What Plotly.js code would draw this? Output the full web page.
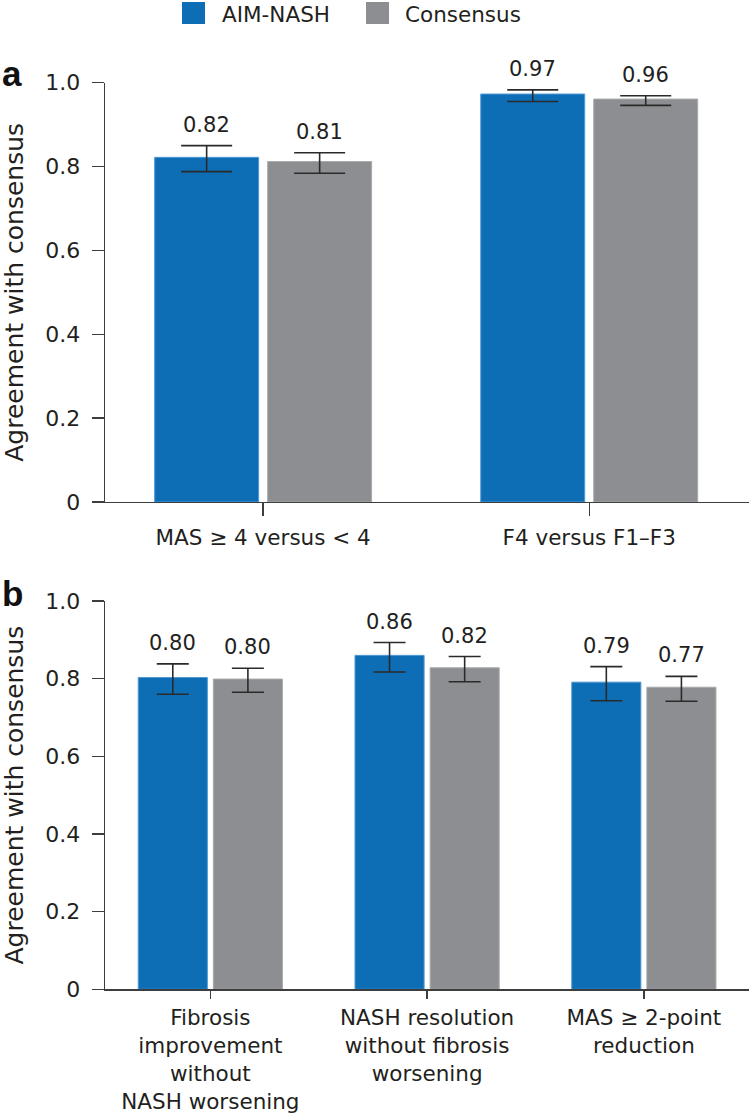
<!DOCTYPE html>
<html><head><meta charset="utf-8">
<script src="https://cdn.plot.ly/plotly-3.0.1.min.js"></script>
<style>html,body{margin:0;padding:0;background:#fff;} #chart{width:749px;height:1115px;}</style>
</head><body><div id="chart"></div>
<script>
// ---- data ----
const seriesNames = ['AIM-NASH', 'Consensus'];
const seriesColors = ['#0d6eb6', '#8d8e91'];
const seriesEdge = ['#4f98d4', '#a9aaac'];

const catsA = ['MAS ≥ 4 versus < 4', 'F4 versus F1–F3'];
const aimA = [0.822, 0.973];
const aimAHi = [0.850, 0.983];
const aimALo = [0.788, 0.955];
const aimALabels = ['0.82', '0.97'];
const conA = [0.812, 0.961];
const conAHi = [0.833, 0.969];
const conALo = [0.784, 0.946];
const conALabels = ['0.81', '0.96'];

const catsB = ['Fibrosis<br>improvement<br>without<br>NASH worsening',
               'NASH resolution<br>without fibrosis<br>worsening',
               'MAS ≥ 2-point<br>reduction'];
const aimB = [0.803, 0.860, 0.791];
const aimBHi = [0.838, 0.893, 0.831];
const aimBLo = [0.760, 0.817, 0.743];
const aimBLabels = ['0.80', '0.86', '0.79'];
const conB = [0.799, 0.828, 0.778];
const conBHi = [0.827, 0.857, 0.806];
const conBLo = [0.765, 0.792, 0.742];
const conBLabels = ['0.80', '0.82', '0.77'];

const yTickVals = [0, 0.2, 0.4, 0.6, 0.8, 1.0];
const yTickText = ['0', '0.2', '0.4', '0.6', '0.8', '1.0'];
const yTitle = 'Agreement with consensus';
const panelLetters = ['a', 'b'];

// ---- layout constants ----
const W = 749, H = 1115;
const FONT = 'DejaVu Sans, Arial, sans-serif';
const TXT = '#231f20';
const AX = '#3d3d3d';
const bargap = 0.307, bargroupgap = 0.08;
const marginL = 105;
const plotW = W - marginL;
const rangeA = [-0.485, 1.49];
const rangeB = [-0.486, 2.485];

function sub(a, b) { return a.map((v, i) => +(v - b[i]).toFixed(4)); }

function barTrace(name, color, edge, x, y, hi, lo, xa, ya, capw) {
  return {
    type: 'bar', name: name, x: x, y: y, xaxis: xa, yaxis: ya,
    marker: { color: color, line: { color: edge, width: 1 } },
    error_y: { type: 'data', symmetric: false, array: sub(hi, y), arrayminus: sub(y, lo),
               color: '#2a2a2a', thickness: 1.6, width: capw },
    hoverinfo: 'x+y', showlegend: false
  };
}

const data = [
  barTrace(seriesNames[0], seriesColors[0], seriesEdge[0], catsA, aimA, aimAHi, aimALo, 'x', 'y', 25.5),
  barTrace(seriesNames[1], seriesColors[1], seriesEdge[1], catsA, conA, conAHi, conALo, 'x', 'y', 25.5),
  barTrace(seriesNames[0], seriesColors[0], seriesEdge[0], catsB, aimB, aimBHi, aimBLo, 'x2', 'y2', 16),
  barTrace(seriesNames[1], seriesColors[1], seriesEdge[1], catsB, conB, conBHi, conBLo, 'x2', 'y2', 16)
];

// value labels above the error bars
const annotations = [];
function slotShift(range) {
  const pxPerCat = plotW / (range[1] - range[0]);
  return (1 - bargap) * pxPerCat / 4;
}
function addLabels(cats, hi, labels, xref, yref, shift) {
  cats.forEach((c, i) => annotations.push({
    x: c, y: hi[i], xref: xref, yref: yref, text: labels[i], showarrow: false,
    xshift: shift, yshift: 7, yanchor: 'bottom', xanchor: 'center',
    font: { family: FONT, size: 21, color: TXT }
  }));
}
const sA = slotShift(rangeA), sB = slotShift(rangeB);
addLabels(catsA, aimAHi, aimALabels, 'x', 'y', -sA);
addLabels(catsA, conAHi, conALabels, 'x', 'y', sA);
addLabels(catsB, aimBHi, aimBLabels, 'x2', 'y2', -sB);
addLabels(catsB, conBHi, conBLabels, 'x2', 'y2', sB);

// panel letters
annotations.push({ text: '<b>' + panelLetters[0] + '</b>', xref: 'paper', yref: 'paper',
  x: -marginL / plotW, y: 1 - 73.5 / H, xanchor: 'left', yanchor: 'middle', showarrow: false,
  font: { family: 'Liberation Sans, Arial, sans-serif', size: 35, color: '#111' } });
annotations.push({ text: '<b>' + panelLetters[1] + '</b>', xref: 'paper', yref: 'paper',
  x: -marginL / plotW, y: 1 - 593.5 / H, xanchor: 'left', yanchor: 'middle', showarrow: false,
  font: { family: 'Liberation Sans, Arial, sans-serif', size: 35, color: '#111' } });

// legend (manual, large swatches)
const shapes = [];
const legX = [182, 366], legTextX = [220, 403];
function px2x(p) { return (p - marginL) / plotW; }
seriesNames.forEach((n, i) => {
  shapes.push({ type: 'rect', xref: 'paper', yref: 'paper',
    x0: px2x(legX[i]), x1: px2x(legX[i] + 23), y0: 1 - 24 / H, y1: 1 - 2 / H,
    fillcolor: seriesColors[i], line: { width: 0 } });
  annotations.push({ text: n, xref: 'paper', yref: 'paper', x: px2x(legTextX[i]), y: 1 - 14.5 / H,
    xanchor: 'left', yanchor: 'middle', showarrow: false,
    font: { family: FONT, size: 21.5, color: TXT } });
});

const xCommon = {
  type: 'category', showline: true, linecolor: AX, linewidth: 1.3,
  ticks: 'outside', tickcolor: AX, tickwidth: 1.3, showgrid: false, zeroline: false,
  tickfont: { family: FONT, size: 21.5, color: TXT }, fixedrange: true
};
const yCommon = {
  range: [0, 1], showline: true, linecolor: AX, linewidth: 1.3,
  ticks: 'outside', ticklen: 12, tickcolor: AX, tickwidth: 1.3, showgrid: false, zeroline: false,
  tickvals: yTickVals, ticktext: yTickText, ticklabelstandoff: 7,
  tickfont: { family: FONT, size: 22, color: TXT },
  title: { text: yTitle, font: { family: FONT, size: 25, color: TXT }, standoff: 17 }
};

const layout = {
  width: W, height: H,
  margin: { l: marginL, r: 0, t: 0, b: 0, pad: 0 },
  paper_bgcolor: '#fff', plot_bgcolor: '#fff',
  barmode: 'group', bargap: bargap, bargroupgap: bargroupgap,
  showlegend: false,
  xaxis: Object.assign({}, xCommon, { anchor: 'y', domain: [0, 1], range: rangeA, ticklen: 13, ticklabelstandoff: 3 }),
  yaxis: Object.assign({}, yCommon, { anchor: 'x', domain: [(H - 502) / H, (H - 82.7) / H] }),
  xaxis2: Object.assign({}, xCommon, { anchor: 'y2', domain: [0, 1], range: rangeB, ticklen: 8, ticklabelstandoff: 1 }),
  yaxis2: Object.assign({}, yCommon, { anchor: 'x2', domain: [(H - 989.3) / H, (H - 601) / H] }),
  annotations: annotations, shapes: shapes
};

Plotly.newPlot('chart', data, layout, { displayModeBar: false, staticPlot: true });
</script>
</body></html>
